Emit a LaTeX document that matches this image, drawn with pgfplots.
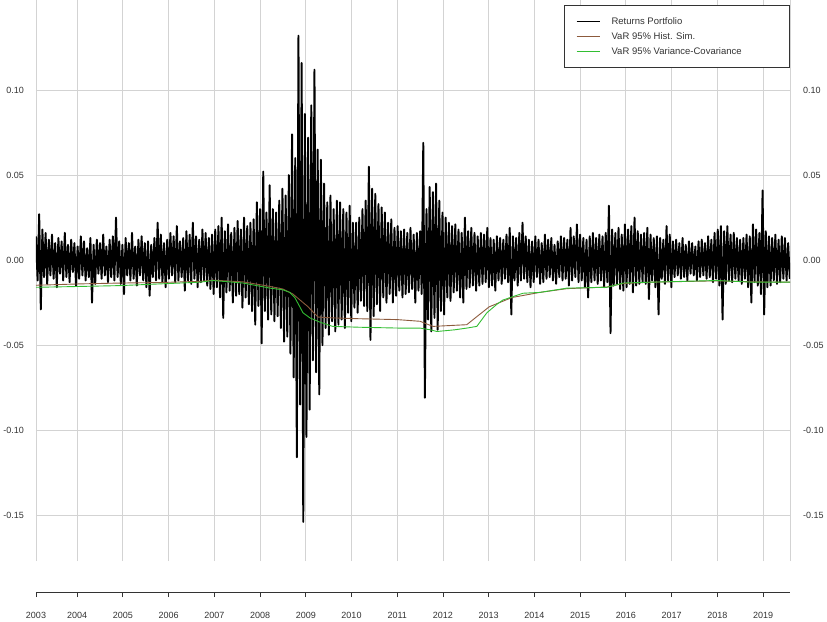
\documentclass[border=0pt]{standalone}
\usepackage{pgfplots}
\pgfplotsset{compat=1.18}
\usepackage{fontspec}
\setmainfont{Liberation Sans}
\definecolor{gridgray}{RGB}{211,211,211}
\definecolor{txtgray}{RGB}{51,51,51}
\definecolor{histbrown}{RGB}{140,90,60}
\definecolor{vcgreen}{RGB}{50,190,50}
\begin{document}
\begin{tikzpicture}
\useasboundingbox (0pt,0pt) rectangle (827pt,621pt);
% main plotting axis
\begin{axis}[
  at={(36pt,60pt)}, anchor=south west,
  width=754pt, height=561pt, scale only axis,
  xmin=2003.1, xmax=2019.59, ymin=-0.177, ymax=0.153,
  axis line style={draw=none},
  xtick={2003.1,2004,2005,2006,2007,2008,2009,2010,2011,2012,2013,2014,2015,2016,2017,2018,2019,2019.59},
  xticklabels={},
  ytick={-0.15,-0.10,-0.05,0,0.05,0.10},
  yticklabels={-0.15,-0.10,-0.05,0.00,0.05,0.10},
  grid=major,
  major grid style={gridgray, line width=0.9pt},
  major tick length=0pt,
  ticklabel style={font=\fontsize{9}{11}\selectfont, text=txtgray},
  yticklabel style={anchor=east, inner sep=0pt, xshift=-12pt},
  legend style={at={(1,1)}, anchor=north east, yshift=-5pt, fill=white, draw=txtgray, line width=0.8pt,
    font=\fontsize{9.5}{11}\selectfont, text=txtgray, inner xsep=12pt, inner ysep=12pt, row sep=6.5pt,
    nodes={inner sep=0pt}, cells={anchor=west}},
  legend image code/.code={\draw[#1, line width=0.9pt] (0pt,0pt) -- (23pt,0pt); \path[draw=none] (0pt,0pt) -- (35pt,0pt);},
]
\addplot[black, line width=1.9pt, line join=round] table[row sep=\\, header=false, x expr={2003.1+\coordindex*0.035}, y index=0] {
0.014\\ -0.012\\ 0.027\\ -0.029\\ 0.018\\ -0.010\\ 0.016\\ -0.014\\ 0.012\\ -0.009\\
0.015\\ -0.011\\ 0.010\\ -0.016\\ 0.013\\ -0.008\\ 0.011\\ -0.012\\ 0.016\\ -0.010\\
0.009\\ -0.013\\ 0.012\\ -0.007\\ 0.010\\ -0.015\\ 0.008\\ -0.011\\ 0.014\\ -0.009\\
0.011\\ -0.012\\ 0.007\\ -0.010\\ 0.013\\ -0.025\\ 0.009\\ -0.014\\ 0.012\\ -0.008\\
0.010\\ -0.011\\ 0.015\\ -0.009\\ 0.008\\ -0.013\\ 0.012\\ -0.010\\ 0.014\\ -0.012\\
0.025\\ -0.010\\ 0.011\\ -0.014\\ 0.009\\ -0.020\\ 0.013\\ -0.009\\ 0.010\\ -0.012\\
0.016\\ -0.011\\ 0.008\\ -0.015\\ 0.012\\ -0.009\\ 0.014\\ -0.012\\ 0.010\\ -0.016\\
0.011\\ -0.021\\ 0.009\\ -0.010\\ 0.013\\ -0.012\\ 0.022\\ -0.011\\ 0.015\\ -0.013\\
0.010\\ -0.016\\ 0.012\\ -0.011\\ 0.016\\ -0.009\\ 0.014\\ -0.013\\ 0.020\\ -0.012\\
0.011\\ -0.010\\ 0.013\\ -0.018\\ 0.017\\ -0.012\\ 0.015\\ -0.014\\ 0.022\\ -0.011\\
0.014\\ -0.016\\ 0.012\\ -0.013\\ 0.018\\ -0.012\\ 0.016\\ -0.015\\ 0.013\\ -0.017\\
0.015\\ -0.020\\ 0.018\\ -0.016\\ 0.020\\ -0.022\\ 0.025\\ -0.034\\ 0.017\\ -0.019\\
0.021\\ -0.018\\ 0.016\\ -0.025\\ 0.019\\ -0.021\\ 0.023\\ -0.020\\ 0.018\\ -0.028\\
0.025\\ -0.022\\ 0.020\\ -0.026\\ 0.022\\ -0.030\\ 0.024\\ -0.038\\ 0.034\\ -0.027\\
0.030\\ -0.049\\ 0.052\\ -0.030\\ 0.028\\ -0.035\\ 0.044\\ -0.032\\ 0.030\\ -0.036\\
0.028\\ -0.033\\ 0.035\\ -0.040\\ 0.042\\ -0.048\\ 0.038\\ -0.045\\ 0.050\\ -0.055\\
0.074\\ -0.069\\ 0.060\\ -0.116\\ 0.132\\ -0.085\\ 0.116\\ -0.154\\ 0.086\\ -0.104\\
0.072\\ -0.088\\ 0.091\\ -0.059\\ 0.112\\ -0.066\\ 0.065\\ -0.079\\ 0.059\\ -0.050\\
0.045\\ -0.040\\ 0.034\\ -0.044\\ 0.038\\ -0.036\\ 0.030\\ -0.042\\ 0.035\\ -0.038\\
0.034\\ -0.035\\ 0.030\\ -0.040\\ 0.028\\ -0.031\\ 0.032\\ -0.036\\ 0.022\\ -0.028\\
0.022\\ -0.031\\ 0.025\\ -0.024\\ 0.030\\ -0.027\\ 0.035\\ -0.030\\ 0.055\\ -0.047\\
0.042\\ -0.033\\ 0.039\\ -0.026\\ 0.033\\ -0.030\\ 0.031\\ -0.022\\ 0.028\\ -0.025\\
0.022\\ -0.020\\ 0.024\\ -0.025\\ 0.019\\ -0.021\\ 0.020\\ -0.018\\ 0.017\\ -0.022\\
0.018\\ -0.020\\ 0.016\\ -0.019\\ 0.019\\ -0.017\\ 0.015\\ -0.025\\ 0.016\\ -0.018\\
0.017\\ -0.020\\ 0.069\\ -0.081\\ 0.030\\ -0.035\\ 0.043\\ -0.042\\ 0.040\\ -0.034\\
0.045\\ -0.041\\ 0.035\\ -0.030\\ 0.028\\ -0.032\\ 0.025\\ -0.022\\ 0.022\\ -0.024\\
0.020\\ -0.019\\ 0.021\\ -0.018\\ 0.018\\ -0.022\\ 0.016\\ -0.025\\ 0.025\\ -0.017\\
0.017\\ -0.016\\ 0.019\\ -0.015\\ 0.016\\ -0.018\\ 0.014\\ -0.015\\ 0.016\\ -0.014\\
0.015\\ -0.013\\ 0.019\\ -0.016\\ 0.013\\ -0.015\\ 0.012\\ -0.018\\ 0.014\\ -0.012\\
0.013\\ -0.014\\ 0.012\\ -0.011\\ 0.015\\ -0.013\\ 0.019\\ -0.032\\ 0.014\\ -0.012\\
0.013\\ -0.015\\ 0.016\\ -0.012\\ 0.022\\ -0.011\\ 0.014\\ -0.013\\ 0.012\\ -0.016\\
0.011\\ -0.013\\ 0.014\\ -0.010\\ 0.012\\ -0.014\\ 0.010\\ -0.013\\ 0.015\\ -0.011\\
0.012\\ -0.010\\ 0.013\\ -0.012\\ 0.009\\ -0.014\\ 0.011\\ -0.010\\ 0.014\\ -0.012\\
0.013\\ -0.011\\ 0.012\\ -0.015\\ 0.019\\ -0.012\\ 0.014\\ -0.010\\ 0.021\\ -0.013\\
0.015\\ -0.012\\ 0.013\\ -0.016\\ 0.012\\ -0.022\\ 0.014\\ -0.013\\ 0.016\\ -0.012\\
0.013\\ -0.014\\ 0.015\\ -0.012\\ 0.014\\ -0.016\\ 0.016\\ -0.013\\ 0.032\\ -0.043\\
0.018\\ -0.015\\ 0.016\\ -0.014\\ 0.019\\ -0.017\\ 0.015\\ -0.018\\ 0.021\\ -0.016\\
0.018\\ -0.014\\ 0.020\\ -0.019\\ 0.025\\ -0.015\\ 0.017\\ -0.014\\ 0.015\\ -0.013\\
0.016\\ -0.014\\ 0.019\\ -0.023\\ 0.015\\ -0.012\\ 0.013\\ -0.016\\ 0.014\\ -0.032\\
0.013\\ -0.011\\ 0.012\\ -0.014\\ 0.020\\ -0.012\\ 0.015\\ -0.016\\ 0.011\\ -0.010\\
0.012\\ -0.009\\ 0.010\\ -0.011\\ 0.013\\ -0.010\\ 0.009\\ -0.012\\ 0.011\\ -0.008\\
0.010\\ -0.009\\ 0.008\\ -0.012\\ 0.011\\ -0.010\\ 0.012\\ -0.009\\ 0.010\\ -0.011\\
0.014\\ -0.010\\ 0.012\\ -0.013\\ 0.016\\ -0.011\\ 0.018\\ -0.015\\ 0.020\\ -0.035\\
0.017\\ -0.014\\ 0.020\\ -0.012\\ 0.015\\ -0.013\\ 0.016\\ -0.011\\ 0.013\\ -0.012\\
0.012\\ -0.014\\ 0.013\\ -0.011\\ 0.015\\ -0.016\\ 0.014\\ -0.025\\ 0.021\\ -0.013\\
0.018\\ -0.015\\ 0.016\\ -0.020\\ 0.041\\ -0.032\\ 0.017\\ -0.016\\ 0.014\\ -0.015\\
0.013\\ -0.012\\ 0.015\\ -0.014\\ 0.012\\ -0.013\\ 0.014\\ -0.011\\ 0.013\\ -0.012\\ 0.010\\ -0.011\\
};
\addlegendentry{\makebox[166pt][l]{Returns Portfolio}}
\addplot[histbrown, line width=0.9pt] coordinates {
(2003.10,-0.0148) (2004.06,-0.0140) (2004.94,-0.0135) (2005.81,-0.0132) (2006.69,-0.0125)
(2006.97,-0.0118) (2007.63,-0.0128) (2008.22,-0.0155) (2008.50,-0.0170) (2008.72,-0.0200)
(2009.03,-0.0270) (2009.27,-0.0335) (2009.59,-0.0340) (2010.18,-0.0345) (2011.00,-0.0350)
(2011.50,-0.0360) (2011.78,-0.0390) (2012.52,-0.0380) (2012.80,-0.0320) (2013.01,-0.0275)
(2013.51,-0.0220) (2014.12,-0.0190) (2014.71,-0.0168) (2015.59,-0.0158) (2015.94,-0.0138)
(2016.53,-0.0130) (2017.99,-0.0122) (2018.78,-0.0128) (2019.59,-0.0130)
};
\addlegendentry{\makebox[166pt][l]{VaR 95\% Hist. Sim.}}
\addplot[vcgreen, line width=0.9pt] coordinates {
(2003.10,-0.0160) (2004.06,-0.0155) (2004.94,-0.0150) (2005.81,-0.0140) (2006.69,-0.0130)
(2006.97,-0.0120) (2007.63,-0.0135) (2008.22,-0.0165) (2008.50,-0.0175) (2008.65,-0.0190)
(2008.76,-0.0220) (2008.94,-0.0310) (2009.09,-0.0340) (2009.31,-0.0365) (2009.59,-0.0390)
(2010.18,-0.0395) (2011.06,-0.0400) (2011.50,-0.0400) (2011.72,-0.0410) (2011.87,-0.0420)
(2012.26,-0.0410) (2012.52,-0.0400) (2012.74,-0.0390) (2012.96,-0.0310) (2013.18,-0.0260)
(2013.31,-0.0235) (2013.75,-0.0195) (2014.12,-0.0190) (2014.71,-0.0165) (2015.59,-0.0160)
(2015.94,-0.0135) (2016.53,-0.0130) (2017.99,-0.0120) (2018.78,-0.0130) (2019.59,-0.0130)
};
\addlegendentry{\makebox[166pt][l]{VaR 95\% Variance-Covariance}}
\end{axis}
% right-hand tick labels
\begin{axis}[
  at={(36pt,60pt)}, anchor=south west,
  width=754pt, height=561pt, scale only axis,
  xmin=2003.1, xmax=2019.59, ymin=-0.177, ymax=0.153,
  axis line style={draw=none},
  xtick=\empty,
  ytick={-0.15,-0.10,-0.05,0,0.05,0.10},
  yticklabels={-0.15,-0.10,-0.05,0.00,0.05,0.10},
  yticklabel pos=right,
  major tick length=0pt,
  ticklabel style={font=\fontsize{9}{11}\selectfont, text=txtgray},
  yticklabel style={anchor=west, inner sep=0pt, xshift=13pt},
]
\end{axis}
% bottom time axis
\begin{axis}[
  at={(36pt,29pt)}, anchor=south west,
  width=754pt, height=2pt, scale only axis,
  xmin=2003.1, xmax=2019.59, ymin=0, ymax=1,
  axis x line=bottom, axis y line=none,
  axis line style={-, draw=txtgray, line width=0.8pt},
  xtick={2003.1,2004,2005,2006,2007,2008,2009,2010,2011,2012,2013,2014,2015,2016,2017,2018,2019},
  xticklabels={2003,2004,2005,2006,2007,2008,2009,2010,2011,2012,2013,2014,2015,2016,2017,2018,2019},
  xtick align=outside,
  major tick length=5pt,
  tick style={draw=txtgray, line width=0.8pt},
  ticklabel style={font=\fontsize{9}{11}\selectfont, text=txtgray},
  xticklabel style={anchor=north, inner sep=0pt, yshift=-15pt},
]
\end{axis}
\end{tikzpicture}
\end{document}
